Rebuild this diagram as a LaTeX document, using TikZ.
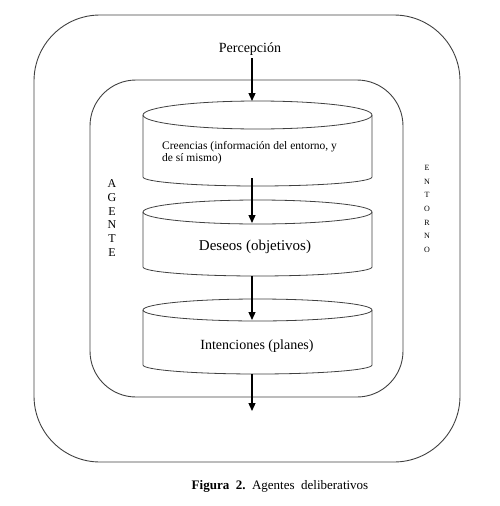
\documentclass[tikz,border=0pt]{standalone}
\usepackage{fontspec}
\setmainfont{Liberation Serif}
\usetikzlibrary{arrows.meta}
\begin{document}
\begin{tikzpicture}[x=1pt,y=-1pt,
  box/.style={draw=black!75,line width=0.9pt},
  cyl/.style={draw=black!75,line width=0.8pt},
  flow/.style={draw=black,line width=1.3pt,-{Triangle[length=8pt,width=7pt]}},
  lbl/.style={inner sep=0pt,font=\fontsize{13.5}{15}\selectfont},
  vert/.style={inner sep=0pt,align=center}]
\useasboundingbox (0,0) rectangle (500,506);
% outer and inner rounded boxes
\draw[box,rounded corners=66pt] (34,15) rectangle (460,462);
\draw[box,rounded corners=46pt] (90,80) rectangle (403,397);
% cylinders
\newcommand{\cylinder}[5]{% yt, ryt, yb, ryb
  \draw[cyl,fill=white] (257.5,#1) ellipse [x radius=114.5pt,y radius=#2pt];
  \draw[cyl] (143,#1) -- (143,#3) arc[start angle=180,end angle=360,x radius=114.5pt,y radius=#4pt] -- (372,#1);
}
\cylinder{115}{14}{177}{9}{}
\cylinder{212}{12}{267}{9}{}
\cylinder{310}{11}{365}{9}{}
% labels
\node[lbl,font=\fontsize{14}{15}\selectfont] (perc) at (250,49) {Percepción};
\node[inner sep=0pt,align=left,anchor=west,font=\fontsize{11.5}{12}\selectfont] (cre) at (162,152.5) {Creencias (información del entorno, y\\de sí mismo)};
\node[lbl,font=\fontsize{15}{16}\selectfont] (des) at (255,247) {Deseos (objetivos)};
\node[lbl,font=\fontsize{14}{16}\selectfont] (int) at (257,346) {Intenciones (planes)};
\node[vert,font=\fontsize{12}{13.8}\selectfont] (ag) at (112,218) {A\\G\\E\\N\\T\\E};
\node[vert,font=\fontsize{8}{13.7}\selectfont] (ent) at (427,209) {E\\N\\T\\O\\R\\N\\O};
\node[inner sep=0pt,font=\fontsize{13}{14}\selectfont] (cap) at (280,486) {\textbf{Figura\ \ 2.}\ \ Agentes\ \ deliberativos};
% connector points
\coordinate (c1top) at (252,101);
\coordinate (p0) at (252,58);
\coordinate (c1bot) at (252,178);
\coordinate (c2top) at (252,223);
\coordinate (c2bot) at (252,276);
\coordinate (c3top) at (252,320);
\coordinate (c3bot) at (252,374);
\coordinate (out) at (252,411);
\draw[flow] (p0) -- (c1top);
\draw[flow] (c1bot) -- (c2top);
\draw[flow] (c2bot) -- (c3top);
\draw[flow] (c3bot) -- (out);
\end{tikzpicture}
\end{document}
